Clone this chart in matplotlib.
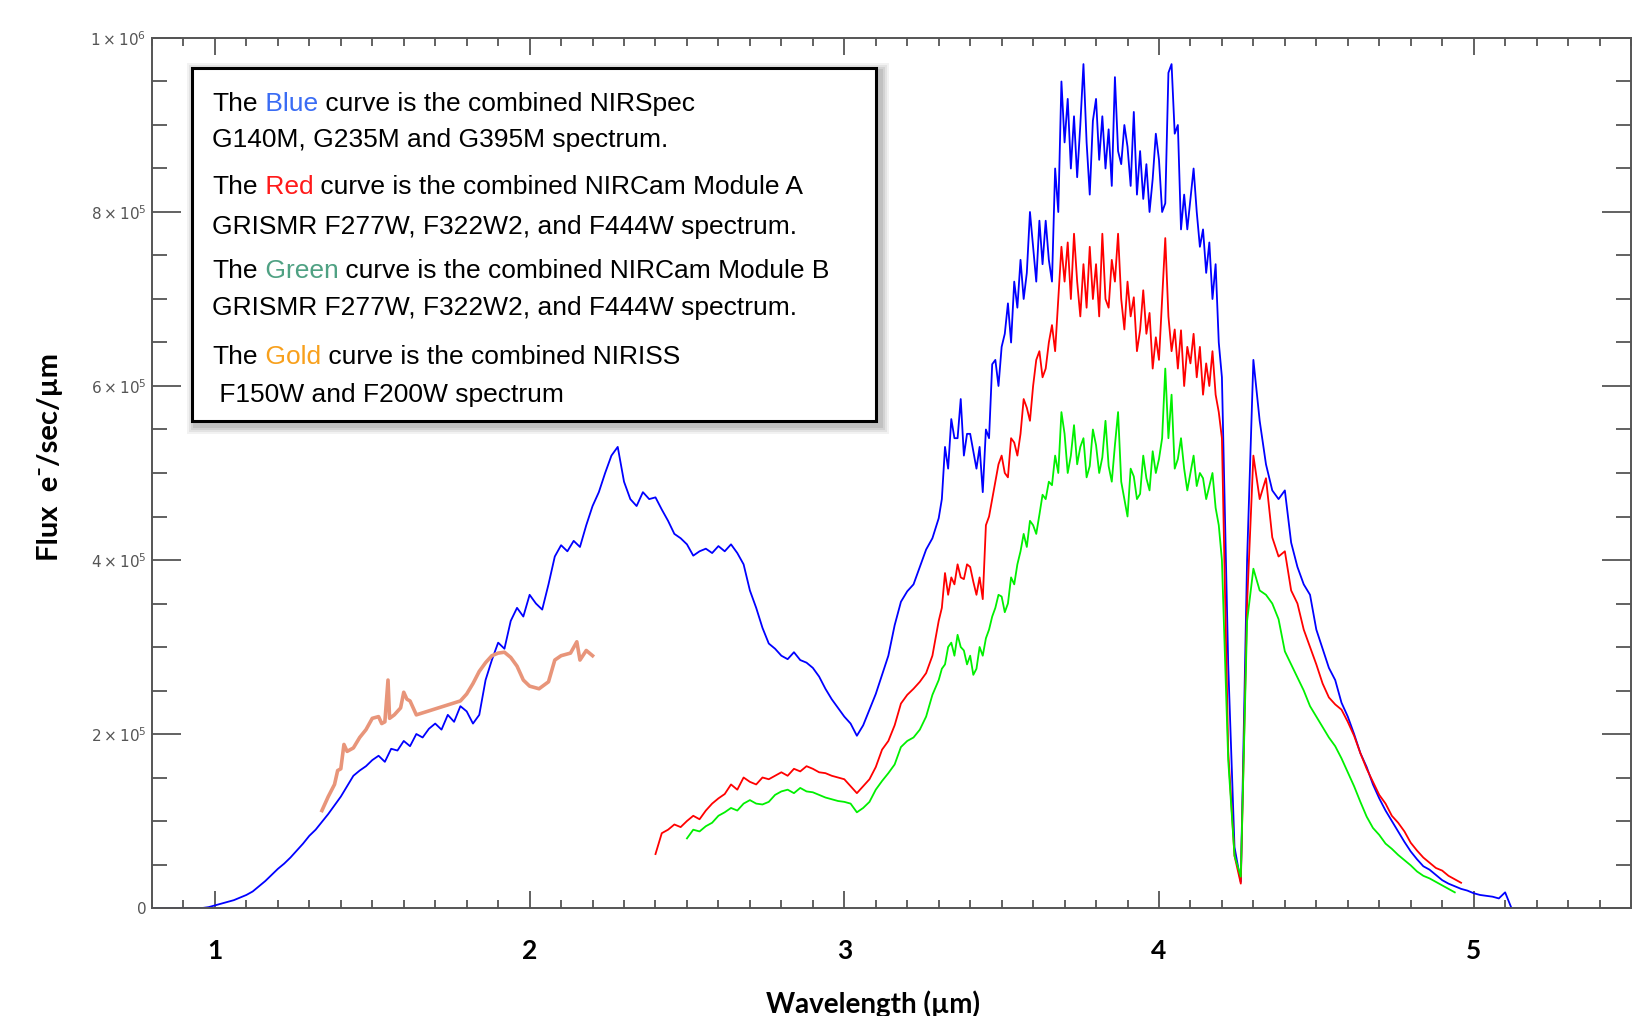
import numpy as np
import matplotlib
matplotlib.use("Agg")
import matplotlib.pyplot as plt
from matplotlib.patches import Rectangle
from matplotlib.transforms import IdentityTransform
from matplotlib.ticker import MultipleLocator, FixedLocator

# ---- data (flux in units of 1e3 e-/sec/um) ----
# each spectrum is stored in pieces: (start wavelength, step, values)

# NIRSpec (blue)
blue_a = [
    0, 0, 0, 0, 0, 0, 0, 0, 0, 1,
    3, 5, 7, 9, 12, 15, 19, 25, 31, 38,
    45, 51, 58, 66, 74, 83, 90, 99, 108, 118,
    128, 140, 152, 158, 163, 170, 175, 168, 183, 181,
    192, 186, 200, 196, 206, 212, 205, 222, 214, 232,
    226, 212, 222, 262, 285, 305, 298, 330, 345, 335,
    360, 350, 343, 372, 404, 417, 410, 422, 415, 440,
    462, 478, 500, 520, 530, 490, 470, 462, 478, 470,
    472, 458, 445, 430, 425, 418, 405, 410, 413, 408,
    416, 410, 418, 408, 395, 365, 345, 322, 304, 298,
    290, 286, 294, 285, 282, 276, 266, 252, 240, 230,
    220, 212, 198, 210, 228, 246, 268, 290, 325, 352,
    364, 372, 392, 412, 425,
]  # 0.80 - 3.28 um, step 0.02
blue_b = [
    448, 470, 530, 505, 562, 540, 540, 585, 520, 545,
    545, 525, 505, 530, 478, 550, 540, 625, 630, 600,
    645, 660, 695, 650, 720, 690, 745, 700, 730, 800,
    760, 720, 790, 740, 790, 745, 720, 850, 800, 950,
    880, 930, 850, 910, 840, 900, 970, 880, 820, 905,
    930, 860, 910, 850, 895, 830, 955, 870, 855, 900,
    875, 830, 915, 820, 870, 815, 855, 800, 838, 890,
    860, 800, 810, 960, 970, 890, 900, 780, 820, 780,
    815, 850, 800, 760, 780, 730, 765, 700, 740, 650,
]  # 3.30 - 4.19 um, step 0.01
blue_c = [
    610, 280, 70, 30, 400, 630, 560, 510, 480, 470,
    480, 420, 392, 372, 360, 320, 298, 276, 262, 236,
    220, 200, 178, 162, 142, 126, 112, 100, 88, 76,
    65, 56, 48, 44, 38, 32, 28, 25, 22, 20,
    17, 15, 14, 13, 11, 18, 0, 0, 0, 0,
    0,
]  # 4.20 - 5.20 um, step 0.02

# NIRCam module A (red)
red_a = [
    62, 86, 90, 96, 93, 100, 106, 102, 112, 120,
    126, 131, 142, 136, 150, 145, 142, 150, 148, 152,
    156, 152, 160, 157, 163, 160, 156, 155, 152, 150,
    148, 140, 132, 140, 148, 162, 182, 192, 210, 235,
    245, 252, 260, 270, 290,
]  # 2.40 - 3.28 um, step 0.02
red_b = [
    330, 345, 385, 360, 380, 372, 395, 380, 378, 395,
    392, 375, 360, 380, 355, 440, 450, 470, 490, 510,
    520, 500, 495, 540, 535, 520, 545, 585, 575, 560,
    600, 630, 640, 610, 620, 650, 670, 640, 700, 760,
    720, 765, 700, 775, 720, 680, 740, 690, 760, 700,
    740, 680, 775, 700, 690, 745, 720, 775, 700, 665,
    720, 680, 702, 640, 664, 710, 660, 684, 620, 656,
    630, 700, 770, 680, 640, 665, 620, 664, 600, 645,
    626, 660, 610, 645, 590, 626, 600, 640, 590, 570,
]  # 3.30 - 4.19 um, step 0.01
red_c = [
    540, 180, 60, 28, 350, 520, 470, 494, 426, 404,
    410, 365, 350, 320, 300, 280, 258, 242, 234, 228,
    214, 198, 178, 160, 145, 130, 120, 106, 98, 88,
    75, 66, 58, 52, 46, 43, 37, 33, 29,
]  # 4.20 - 4.96 um, step 0.02

# NIRCam module B (green)
green_a = [
    80, 90, 88, 94, 98, 106, 110, 115, 112, 120,
    124, 120, 119, 122, 130, 134, 136, 132, 138, 134,
    133, 130, 127, 125, 123, 122, 120, 110, 115, 122,
    136, 146, 155, 165, 185, 192, 196, 205, 220, 245,
]  # 2.50 - 3.28 um, step 0.02
green_b = [
    262, 275, 280, 300, 305, 290, 314, 300, 296, 280,
    290, 268, 275, 300, 290, 310, 320, 335, 345, 360,
    358, 340, 350, 380, 372, 395, 410, 430, 415, 445,
    440, 430, 452, 475, 470, 490, 486, 520, 500, 570,
    545, 500, 520, 555, 510, 530, 540, 495, 508, 550,
    532, 500, 518, 560, 508, 490, 532, 570, 490, 470,
    450, 505, 496, 470, 476, 520, 494, 480, 525, 500,
    516, 540, 620, 540, 590, 505, 516, 540, 505, 480,
    500, 520, 485, 500, 494, 470, 485, 500, 460, 440,
]  # 3.30 - 4.19 um, step 0.01
green_c = [
    400, 170, 60, 36, 330,
    390, 365, 360, 350, 332, 295, 280, 265, 250, 232,
    220, 208, 196, 186, 172, 156, 140, 122, 105, 92,
    84, 74, 68, 61, 55, 49, 42, 37, 34, 30,
    26, 22, 18,
]  # 4.20 - 4.94 um, step 0.02

# NIRISS (gold)
wl_gold = [1.34, 1.36, 1.38, 1.39, 1.40, 1.41, 1.42, 1.44, 1.46, 1.48,
           1.50, 1.52, 1.53, 1.54, 1.55, 1.555, 1.57, 1.59, 1.60, 1.61,
           1.62, 1.64, 1.78, 1.80, 1.82, 1.84, 1.86, 1.88, 1.90, 1.92,
           1.94, 1.96, 1.98, 2.00, 2.03, 2.06, 2.08, 2.10, 2.13, 2.15,
           2.16, 2.18, 2.20]
flux_gold = [112, 128, 142, 158, 160, 188, 180, 184, 196, 205,
             218, 220, 212, 214, 262, 218, 222, 230, 248, 240,
             238, 222, 238, 246, 258, 272, 282, 290, 293, 294,
             288, 278, 262, 255, 252, 260, 285, 290, 293, 306,
             285, 296, 290]

ytick_vals = [0, 2e5, 4e5, 6e5, 8e5, 1e6]
ytick_labels = ["0", r"$2\times10^5$", r"$4\times10^5$", r"$6\times10^5$",
                r"$8\times10^5$", r"$1\times10^6$"]
xtick_vals = [1, 2, 3, 4, 5]

box_lines = [
    [("The", "black"), (" Blue", "#3a6cf4"), (" curve is the combined NIRSpec", "black")],
    [("G140M, G235M and G395M spectrum.", "black")],
    [("The", "black"), (" Red", "#ff1a1a"), (" curve is the combined NIRCam Module A", "black")],
    [("GRISMR F277W, F322W2, and F444W spectrum.", "black")],
    [("The", "black"), (" Green", "#4fa183"), (" curve is the combined NIRCam Module B", "black")],
    [("GRISMR F277W, F322W2, and F444W spectrum.", "black")],
    [("The", "black"), (" Gold", "#f8a01c"), (" curve is the combined NIRISS", "black")],
    [(" F150W and F200W spectrum", "black")],
]
# y (pixels from top) of the text rows
box_rows_px = [104, 140, 187, 227, 271, 308, 357, 395]


def spectrum(pieces):
    wl, fl = [], []
    for start, step, vals in pieces:
        wl.append(start + step * np.arange(len(vals)))
        fl.append(np.array(vals, dtype=float) * 1e3)
    return np.concatenate(wl), np.concatenate(fl)


wl_blue, fx_blue = spectrum([(0.80, 0.02, blue_a), (3.30, 0.01, blue_b), (4.20, 0.02, blue_c)])
wl_red, fx_red = spectrum([(2.40, 0.02, red_a), (3.30, 0.01, red_b), (4.20, 0.02, red_c)])
wl_green, fx_green = spectrum([(2.50, 0.02, green_a), (3.30, 0.01, green_b), (4.20, 0.02, green_c)])

W, H = 1638, 1016
fig = plt.figure(figsize=(W / 100, H / 100), dpi=100)
ax = fig.add_axes([152 / W, 1 - 908 / H, 1479 / W, 870 / H])

ax.plot(wl_blue, fx_blue, color="#0000ff", lw=1.3, zorder=2)
ax.plot(wl_red, fx_red, color="#ff0000", lw=1.3, zorder=3)
ax.plot(wl_green, fx_green, color="#00f000", lw=1.3, zorder=3)
ax.plot(wl_gold, np.array(flux_gold) * 1e3, color="#e8957a", lw=2.6, zorder=3)

ax.set_xlim(0.8, 5.5)
ax.set_ylim(0, 1e6)

ax.xaxis.set_major_locator(FixedLocator(xtick_vals))
ax.xaxis.set_minor_locator(MultipleLocator(0.1))
ax.yaxis.set_major_locator(FixedLocator(ytick_vals))
ax.yaxis.set_minor_locator(MultipleLocator(5e4))
ax.set_yticklabels(ytick_labels)
ax.set_xticklabels([str(v) for v in xtick_vals])

for sp in ax.spines.values():
    sp.set_color("#555555")
    sp.set_linewidth(1.4)

ax.tick_params(which="both", direction="in", top=True, right=True, color="#555555", width=1.3)
ax.tick_params(axis="y", which="major", length=21, labelsize=11, labelcolor="#555555", pad=4)
ax.tick_params(axis="y", which="minor", length=10.5)
ax.tick_params(axis="x", which="major", length=12.5, labelsize=19, pad=22)
ax.tick_params(axis="x", which="minor", length=6)
for lab in ax.get_xticklabels():
    lab.set_fontweight("bold")
    lab.set_family(["Lato", "DejaVu Sans"])

fig.text(50 / W, 1 - 457 / H, "Flux  e\u207b/sec/\u00b5m", rotation=90, ha="center", va="center",
         fontsize=21, fontweight="bold", family=["Lato", "DejaVu Sans"])
fig.text(873 / W, 1 - 990 / H, "Wavelength (\u00b5m)", ha="center", va="top",
         fontsize=20, fontweight="bold", family=["Lato", "DejaVu Sans"])

# ---- annotation box with soft shadow ----
bx0, bx1, by0, by1 = 192, 876, 68, 421
for d, a in [(9, 0.05), (7, 0.06), (5, 0.07), (3, 0.08)]:
    fig.add_artist(Rectangle(((bx0 - d + 4) / W, 1 - (by1 + d + 4) / H),
                             (bx1 - bx0 + 2 * d) / W, (by1 - by0 + 2 * d) / H,
                             transform=fig.transFigure, fc="black", ec="none", alpha=a, zorder=4))
fig.add_artist(Rectangle((bx0 / W, 1 - by1 / H), (bx1 - bx0) / W, (by1 - by0) / H,
                         transform=fig.transFigure, fc="white", ec="black", lw=2.2, zorder=5))

box_font, box_size = "Liberation Sans", 19

for row_px, pieces in zip(box_rows_px, box_lines):
    txt, col = pieces[0]
    prev = fig.text(212 / W, 1 - row_px / H, txt, color=col, va="center", ha="left",
                    fontsize=box_size, family=box_font, zorder=6)
    # each following piece starts where the previous one ends
    for txt, col in pieces[1:]:
        fig.canvas.draw()
        bb = prev.get_window_extent()
        prev = fig.text(bb.x1, bb.y0, txt, color=col, fontsize=box_size, family=box_font,
                        ha="left", va="bottom", zorder=6, transform=IdentityTransform())

fig.savefig("out.png", dpi=100)
